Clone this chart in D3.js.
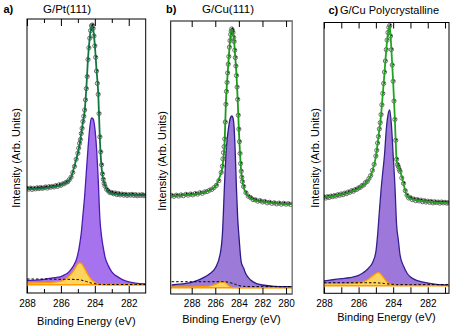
<!DOCTYPE html>
<html><head><meta charset="utf-8">
<script src="https://cdn.jsdelivr.net/npm/d3@7"></script>
<style>body{margin:0;background:#fff}svg{display:block;font-family:"Liberation Sans",Arial,sans-serif}</style>
</head><body><svg id="chart" width="451" height="331"></svg>
<script>
// ---------------- DATA ----------------
// Panel a) G/Pt(111)
const energiesA = [288.0,287.5,287.0,286.5,286.0,285.8,285.6,285.4,285.2,285.1,285.0,284.9,284.8,284.7,284.6,284.5,284.4,284.3,284.2,284.1,284.0,283.9,283.8,283.7,283.6,283.5,283.4,283.2,283.0,282.6,282.2,281.6,281.0];
const fitA   = [38.0,38.1,38.3,38.7,39.4,40.0,40.5,42.3,46.4,48.7,51.1,54.4,58.4,62.4,66.4,74.8,85.8,93.1,97.4,96.4,90.5,81.4,73.0,55.8,45.6,41.2,39.1,36.9,36.3,35.9,35.8,35.8,35.6];
const mainA  = [4.6,4.7,5.0,5.5,6.0,6.6,7.3,8.6,10.6,12.0,14.2,17.5,21.9,28.5,35.4,44.2,52.9,60.2,63.9,63.5,60.2,52.9,41.2,27.0,20.5,16.5,13.2,9.9,7.7,5.7,4.4,3.6,3.3];
const minorA = [3.65,3.7,3.75,3.9,4.3,4.9,5.7,6.9,8.6,9.7,10.6,11.0,10.8,10.0,8.9,7.8,6.6,5.7,4.9,4.4,3.9,3.5,3.4,3.2,3.1,3.05,3.0,3.0,3.0,3.0,3.0,3.0,3.0];
const bgA    = [5.1,5.1,5.1,5.05,5.0,5.0,5.0,5.0,4.95,4.9,4.9,4.8,4.7,4.55,4.4,4.2,4.0,3.8,3.6,3.5,3.4,3.3,3.2,3.15,3.1,3.1,3.1,3.1,3.1,3.1,3.1,3.1,3.1];
const baselineA = 3.0;
const pointsA = [[288.0,38.2],[287.9,37.9],[287.8,38.3],[287.7,37.8],[287.6,38.2],[287.5,38.0],[287.4,38.4],[287.3,38.1],[287.2,38.5],[287.1,38.2],[287.0,38.4],[286.9,38.7],[286.8,38.3],[286.7,38.8],[286.6,38.6],[286.5,38.9],[286.4,38.7],[286.3,39.2],[286.2,38.9],[286.1,39.5],[286.0,39.3],[285.9,39.8],[285.8,39.9],[285.7,40.4],[285.6,40.6],[285.5,41.4],[285.4,42.3],[285.3,44.0],[285.2,46.2],[285.1,48.8],[285.0,51.0],[284.95,52.9],[284.9,54.6],[284.85,56.0],[284.8,58.2],[284.75,60.1],[284.7,62.6],[284.65,64.5],[284.6,66.8],[284.55,70.5],[284.5,74.6],[284.45,79.0],[284.4,85.2],[284.35,89.5],[284.3,93.0],[284.25,95.8],[284.2,97.5],[284.15,97.8],[284.1,96.6],[284.05,93.8],[284.0,90.2],[283.95,86.0],[283.9,81.0],[283.85,76.5],[283.8,72.5],[283.75,65.5],[283.7,57.0],[283.65,51.5],[283.6,46.8],[283.55,43.5],[283.5,41.5],[283.45,40.0],[283.4,39.0],[283.3,37.8],[283.2,37.2],[283.1,36.6],[283.0,36.7],[282.9,36.2],[282.8,36.5],[282.7,35.9],[282.6,36.3],[282.5,35.8],[282.4,36.1],[282.3,35.7],[282.2,36.0],[282.1,35.6],[282.0,35.9],[281.9,35.7],[281.8,36.0],[281.7,35.6],[281.6,35.9],[281.5,35.5],[281.4,35.8],[281.3,35.6],[281.2,35.9],[281.1,35.5],[281.0,35.7]];
const majorTicksA = [288,286,284,282];
const minorTicksA = [287,285,283];

// Panel b) G/Cu(111)
const energiesB = [289.7,289.0,288.5,288.0,287.5,287.0,286.5,286.0,285.6,285.4,285.2,285.1,285.0,284.9,284.8,284.7,284.6,284.5,284.4,284.3,284.2,284.1,284.0,283.8,283.6,283.4,283.0,282.5,282.0,281.0,280.0,279.5];
const fitB   = [35.9,36.1,36.3,36.4,36.7,37.2,37.9,39.4,43.2,46.5,56.4,70.0,77.7,83.9,90.1,94.9,96.9,95.6,92.3,86.4,80.2,71.1,60.1,44.7,39.2,36.9,35.1,34.2,33.8,33.3,33.0,32.9];
const mainB  = [3.3,3.6,3.9,4.3,5.0,6.0,7.3,9.5,14.3,21.6,41.8,50.9,56.4,60.1,63.0,64.7,65.2,64.5,60.8,50.9,38.1,27.8,21.6,11.7,9.5,7.3,5.1,3.8,3.3,2.8,2.7,2.7];
const minorB = [2.6,2.6,2.6,2.6,2.65,2.7,2.9,3.5,4.3,4.5,4.3,4.0,3.6,3.2,2.9,2.6,2.4,2.35,2.3,2.3,2.3,2.3,2.3,2.3,2.3,2.3,2.3,2.3,2.3,2.3,2.3,2.3];
const bgB    = [4.5,4.5,4.5,4.5,4.5,4.5,4.5,4.5,4.5,4.5,4.5,4.45,4.4,4.3,4.2,4.1,4.0,3.85,3.7,3.55,3.4,3.25,3.1,2.9,2.8,2.75,2.7,2.7,2.7,2.7,2.7,2.7];
const baselineB = 2.3;
const pointsB = [[289.7,36.1],[289.5,35.8],[289.3,36.2],[289.1,35.9],[288.9,36.3],[288.7,36.0],[288.5,36.5],[288.3,36.2],[288.1,36.6],[287.9,36.3],[287.7,36.8],[287.5,36.6],[287.3,37.1],[287.1,36.9],[286.9,37.4],[286.7,37.5],[286.5,38.0],[286.3,38.3],[286.1,39.0],[285.9,39.8],[285.7,41.5],[285.5,44.5],[285.4,46.8],[285.35,49.5],[285.3,51.8],[285.25,54.0],[285.2,56.8],[285.15,63.0],[285.1,69.5],[285.05,74.2],[285.0,77.5],[284.95,81.0],[284.9,84.2],[284.85,87.0],[284.8,90.4],[284.75,92.8],[284.7,95.1],[284.65,96.3],[284.6,97.1],[284.55,96.5],[284.5,95.8],[284.45,94.0],[284.4,92.5],[284.35,89.3],[284.3,86.6],[284.25,83.5],[284.2,80.0],[284.15,75.8],[284.1,71.3],[284.05,65.5],[284.0,60.4],[283.95,55.8],[283.9,51.5],[283.85,47.8],[283.8,45.0],[283.75,42.8],[283.7,41.2],[283.6,39.4],[283.4,37.1],[283.2,35.8],[283.0,35.3],[282.8,34.6],[282.6,34.5],[282.4,34.0],[282.2,34.2],[282.0,33.7],[281.8,33.9],[281.6,33.4],[281.4,33.6],[281.2,33.2],[281.0,33.4],[280.8,33.0],[280.6,33.3],[280.4,32.9],[280.2,33.2],[280.0,32.9],[279.8,33.1],[279.6,32.8]];
const majorTicksB = [288,286,284,282,280];
const minorTicksB = [];

// Panel c) G/Cu Polycrystalline
const energiesC = [288.0,287.5,287.0,286.5,286.0,285.8,285.6,285.4,285.2,285.0,284.9,284.8,284.7,284.6,284.5,284.4,284.3,284.2,284.1,284.0,283.9,283.8,283.7,283.6,283.4,283.2,283.0,282.5,282.0,281.5,280.8];
const fitC   = [35.4,35.9,36.5,37.4,38.7,39.6,40.7,42.2,45.2,50.5,55.3,60.5,65.8,73.6,81.5,89.8,96.1,98.7,89.8,78.1,64.0,49.2,46.6,45.2,40.4,35.9,35.0,34.3,33.9,33.6,33.5];
const mainC  = [4.6,5.0,5.4,5.8,6.6,7.3,8.2,9.5,11.2,15.3,21.5,30.0,38.1,44.8,51.1,60.3,65.8,67.7,62.1,51.1,40.0,25.2,19.7,14.1,10.1,7.5,6.0,4.5,3.8,3.3,3.1];
const minorC = [3.6,3.6,3.6,3.7,3.9,4.1,4.6,5.4,6.4,7.3,7.6,7.5,7.0,6.2,5.3,4.5,3.9,3.5,3.3,3.1,3.0,2.95,2.9,2.9,2.9,2.9,2.9,2.9,2.9,2.9,2.9];
const bgC    = [3.9,3.9,3.9,3.9,3.9,3.9,3.9,3.9,3.9,3.9,3.85,3.8,3.75,3.7,3.6,3.5,3.45,3.4,3.35,3.3,3.25,3.2,3.2,3.2,3.2,3.2,3.2,3.2,3.2,3.2,3.2];
const baselineC = 2.8;
const pointsC = [[288.0,35.6],[287.9,35.2],[287.8,35.7],[287.7,35.4],[287.6,35.9],[287.5,35.7],[287.4,36.1],[287.3,35.9],[287.2,36.4],[287.1,36.2],[287.0,36.7],[286.9,36.4],[286.8,37.0],[286.7,36.8],[286.6,37.4],[286.5,37.3],[286.4,37.9],[286.3,37.7],[286.2,38.3],[286.1,38.4],[286.0,38.9],[285.9,39.1],[285.8,39.8],[285.7,40.0],[285.6,40.9],[285.5,41.3],[285.4,42.4],[285.3,43.5],[285.2,45.4],[285.1,47.6],[285.0,50.7],[284.95,52.8],[284.9,55.5],[284.85,57.9],[284.8,60.7],[284.75,63.0],[284.7,66.0],[284.65,69.6],[284.6,73.8],[284.55,77.5],[284.5,81.7],[284.45,85.8],[284.4,90.0],[284.35,93.5],[284.3,96.3],[284.25,98.2],[284.2,98.9],[284.15,95.0],[284.1,90.0],[284.05,84.3],[284.0,78.3],[283.95,71.0],[283.9,64.2],[283.85,56.5],[283.8,49.5],[283.75,47.6],[283.7,46.8],[283.65,45.8],[283.6,45.0],[283.5,42.6],[283.4,40.6],[283.3,37.9],[283.2,36.2],[283.1,35.2],[283.0,35.3],[282.9,34.6],[282.8,34.8],[282.7,34.2],[282.6,34.6],[282.5,34.1],[282.4,34.4],[282.3,33.8],[282.2,34.2],[282.1,33.7],[282.0,34.0],[281.9,33.6],[281.8,33.9],[281.7,33.4],[281.6,33.8],[281.5,33.5],[281.4,33.7],[281.3,33.3],[281.2,33.7],[281.1,33.4],[281.0,33.6],[280.9,33.3],[280.8,33.5]];
const majorTicksC = [288,286,284,282];
const minorTicksC = [287,285,283,281];

const panelLetters = ["a)", "b)", "c)"];
const panelTitles = ["G/Pt(111)", "G/Cu(111)", "G/Cu Polycrystalline"];
const xLabel = "Binding Energy (eV)";
const yLabel = "Intensity (Arb. Units)";

// ---------------- LAYOUT / STYLE ----------------
const panels = [
  {key:"a", E:energiesA, fit:fitA, main:mainA, minor:minorA, bg:bgA, base:baselineA, pts:pointsA, major:majorTicksA, minorT:minorTicksA,
   xDom:[288,281], left:27, right:145.7, top:19, bottom:293, green:"#137640", purpleFill:"#a772ee", purpleStroke:"#4a1cb0",
   letterX:3.5, titleX:43, titleSize:"11.5px", titleY:13, yLabX:19.5, yLabY:158, xLabY:324.5, tickPad:7, majorLen:7, minorLen:4, frameTR:"#000"},
  {key:"b", E:energiesB, fit:fitB, main:mainB, minor:minorB, bg:bgB, base:baselineB, pts:pointsB, major:majorTicksB, minorT:minorTicksB,
   xDom:[289.78,279.47], left:170.7, right:292.3, top:21, bottom:294, green:"#1c9a1c", purpleFill:"#9b7ad8", purpleStroke:"#2e1a86",
   letterX:166, titleX:202, titleSize:"11.5px", titleY:13, yLabX:165.5, yLabY:161, xLabY:322.5, tickPad:6, majorLen:6, minorLen:0, frameTR:"#8a8a8a"},
  {key:"c", E:energiesC, fit:fitC, main:mainC, minor:minorC, bg:bgC, base:baselineC, pts:pointsC, major:majorTicksC, minorT:minorTicksC,
   xDom:[288,280.77], left:324, right:449, top:22.5, bottom:293.3, green:"#22a422", purpleFill:"#9d78da", purpleStroke:"#35208e",
   letterX:328.5, titleX:340, titleSize:"11px", titleY:14, yLabX:318.5, yLabY:158, xLabY:320.5, tickPad:7, majorLen:6, minorLen:6, frameTR:"#000"}
];

const svg = d3.select("#chart");

panels.forEach((p, idx) => {
  const x = d3.scaleLinear().domain(p.xDom).range([p.left, p.right]);
  const y = d3.scaleLinear().domain([0, 100]).range([p.bottom, p.top]);
  const g = svg.append("g");
  const clipId = "clip-" + p.key;
  svg.append("clipPath").attr("id", clipId).append("rect")
    .attr("x", p.left).attr("y", p.top).attr("width", p.right - p.left).attr("height", p.bottom - p.top);
  const plot = g.append("g").attr("clip-path", `url(#${clipId})`);

  const rows = p.E.map((e, i) => ({e, fit:p.fit[i], main:p.main[i], minor:p.minor[i], bg:p.bg[i]}));
  const area = k => d3.area().x(d => x(d.e)).y0(y(p.base)).y1(d => y(d[k])).curve(d3.curveMonotoneX);
  const line = k => d3.line().x(d => x(d.e)).y(d => y(d[k])).curve(d3.curveMonotoneX);

  // components
  plot.append("path").datum(rows).attr("d", area("main")).attr("fill", p.purpleFill);
  plot.append("path").datum(rows).attr("d", area("minor")).attr("fill", "#ffd45c");
  plot.append("path").datum(rows).attr("d", line("minor")).attr("fill", "none").attr("stroke", "#ff9a00").attr("stroke-width", 1.3);
  plot.append("line").attr("x1", p.left).attr("x2", p.right).attr("y1", y(p.base)).attr("y2", y(p.base))
    .attr("stroke", "#ff9a00").attr("stroke-width", 1.6);
  plot.append("path").datum(rows).attr("d", line("main")).attr("fill", "none").attr("stroke", p.purpleStroke).attr("stroke-width", 1.3);
  plot.append("path").datum(rows).attr("d", line("bg")).attr("fill", "none").attr("stroke", "#000").attr("stroke-width", 1)
    .attr("stroke-dasharray", "2.5,2");

  // data points
  const pts = plot.append("g");
  pts.selectAll("circle.o").data(p.pts).join("circle").attr("class", "o")
    .attr("cx", d => x(d[0])).attr("cy", d => y(d[1])).attr("r", 2.1)
    .attr("fill", "none").attr("stroke", "#6e6e6e").attr("stroke-width", 1);
  pts.selectAll("circle.d").data(p.pts).join("circle").attr("class", "d")
    .attr("cx", d => x(d[0]) + 0.6).attr("cy", d => y(d[1]) - 0.6).attr("r", 0.9).attr("fill", "#000");

  // fit envelope
  plot.append("path").datum(rows).attr("d", line("fit")).attr("fill", "none").attr("stroke", p.green).attr("stroke-width", 1.8);

  // frame
  g.append("rect").attr("x", p.left).attr("y", p.top).attr("width", p.right - p.left).attr("height", p.bottom - p.top)
    .attr("fill", "none").attr("stroke", "#000").attr("stroke-width", 1);
  if (p.frameTR !== "#000") {
    g.append("path").attr("d", `M${p.left},${p.top}H${p.right}V${p.bottom}`).attr("fill", "none")
      .attr("stroke", p.frameTR).attr("stroke-width", 1.2);
  }

  // axes (ticks inward)
  const styleAxis = s => {
    s.select(".domain").remove();
    s.selectAll(".tick line").attr("stroke", "#000").attr("stroke-width", 1);
    s.selectAll(".tick text").attr("fill", "#000").attr("font-size", "10px").attr("font-family", '"Liberation Sans",Arial,sans-serif');
  };
  g.append("g").attr("transform", `translate(0,${p.bottom})`)
    .call(d3.axisBottom(x).tickValues(p.major).tickSizeInner(-p.majorLen).tickSizeOuter(0).tickPadding(p.tickPad).tickFormat(d3.format("d")))
    .call(styleAxis);
  g.append("g").attr("transform", `translate(0,${p.top})`)
    .call(d3.axisTop(x).tickValues(p.major).tickSizeInner(-p.majorLen).tickSizeOuter(0).tickFormat(""))
    .call(styleAxis);
  if (p.minorT.length) {
    g.append("g").attr("transform", `translate(0,${p.bottom})`)
      .call(d3.axisBottom(x).tickValues(p.minorT).tickSizeInner(-p.minorLen).tickSizeOuter(0).tickFormat(""))
      .call(styleAxis);
    g.append("g").attr("transform", `translate(0,${p.top})`)
      .call(d3.axisTop(x).tickValues(p.minorT).tickSizeInner(-p.minorLen).tickSizeOuter(0).tickFormat(""))
      .call(styleAxis);
  }

  // labels
  g.append("text").attr("x", (p.left + p.right) / 2).attr("y", p.xLabY).attr("text-anchor", "middle")
    .attr("font-size", "11px").attr("fill", "#000").text(xLabel);
  g.append("text").attr("transform", `translate(${p.yLabX},${p.yLabY}) rotate(-90)`).attr("text-anchor", "middle")
    .attr("font-size", "11px").attr("fill", "#000").text(yLabel);
  g.append("text").attr("x", p.letterX).attr("y", p.titleY).attr("font-size", "11px").attr("font-weight", "bold")
    .attr("fill", "#000").text(panelLetters[idx]);
  g.append("text").attr("x", p.titleX).attr("y", p.titleY).attr("text-anchor", "start").attr("font-size", p.titleSize)
    .attr("fill", "#000").text(panelTitles[idx]);
});
</script>
</body></html>
